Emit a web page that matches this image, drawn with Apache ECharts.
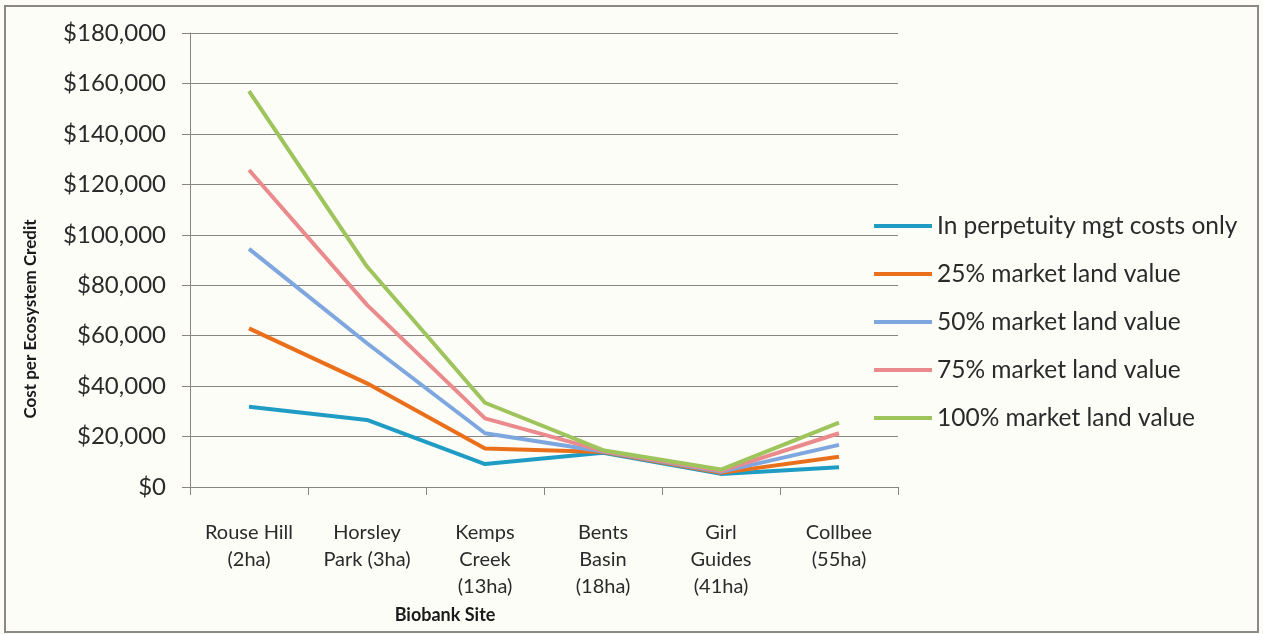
<!DOCTYPE html>
<html>
<head>
<meta charset="utf-8">
<script src="https://cdn.jsdelivr.net/npm/echarts@6/dist/echarts.min.js"></script>
<style>
html,body{margin:0;padding:0;background:#fdfdf8;}
#chart{width:1263px;height:634px;}
</style>
</head>
<body>
<div id="chart"></div>
<script>
const categories = ["Rouse Hill\n(2ha)", "Horsley\nPark (3ha)", "Kemps\nCreek\n(13ha)", "Bents\nBasin\n(18ha)", "Girl\nGuides\n(41ha)", "Collbee\n(55ha)"];
const seriesNames = ["In perpetuity mgt costs only", "25% market land value", "50% market land value", "75% market land value", "100% market land value"];
const mgtOnly   = [31800, 26600, 9100, 13600, 5200, 7800];
const land25    = [62900, 41100, 15300, 13900, 5600, 12000];
const land50    = [94400, 57000, 21300, 14100, 6000, 16700];
const land75    = [125700, 72200, 27200, 14300, 6400, 21300];
const land100   = [157000, 87400, 33400, 14600, 6900, 25500];
const yTicks = { min: 0, max: 180000, interval: 20000 };
const colors = ["#1f9cc4", "#ea6f1b", "#7ea6df", "#ea8a8c", "#9ec45c"];

const allData = [mgtOnly, land25, land50, land75, land100];
const chart = echarts.init(document.getElementById('chart'));
const font = 'Lato, "Open Sans", sans-serif';
chart.setOption({
  backgroundColor: '#fdfdf8',
  animation: false,
  color: colors,
  grid: { left: 190, right: 365, top: 33, bottom: 147 },
  legend: {
    orient: 'vertical',
    left: 869,
    top: 208,
    icon: 'rect',
    itemWidth: 58,
    itemHeight: 4,
    itemGap: 22,
    textStyle: { fontFamily: font, fontSize: 24.5, color: '#2a2a2a', lineHeight: 26 },
    data: seriesNames
  },
  xAxis: {
    type: 'category',
    data: categories,
    boundaryGap: true,
    axisLine: { lineStyle: { color: '#8a8585', width: 1 } },
    axisTick: { show: true, length: 8, lineStyle: { color: '#8a8585' } },
    axisLabel: { fontFamily: font, fontSize: 20, color: '#2a2a2a', margin: 32, lineHeight: 27, interval: 0 }
  },
  yAxis: {
    type: 'value',
    min: yTicks.min, max: yTicks.max, interval: yTicks.interval,
    axisLine: { show: true, lineStyle: { color: '#8a8585', width: 1 } },
    axisTick: { show: true, length: 8, lineStyle: { color: '#8a8585' } },
    splitLine: { lineStyle: { color: '#8a8585', width: 1 } },
    axisLabel: {
      fontFamily: font, fontSize: 24, color: '#2a2a2a', margin: 24,
      formatter: v => '$' + v.toLocaleString('en-US')
    }
  },
  series: seriesNames.map((n, i) => ({
    name: n,
    type: 'line',
    data: allData[i],
    symbol: 'none',
    lineStyle: { width: 4, color: colors[i] },
    itemStyle: { color: colors[i] }
  })),
  graphic: [
    { type: 'rect', shape: { x: 5, y: 6, width: 1253, height: 626 },
      style: { fill: 'none', stroke: '#8c8888', lineWidth: 2 }, silent: true },
    { type: 'text', x: 445, y: 615,
      style: { text: 'Biobank Site', font: 'bold 18px ' + font, fill: '#1a1a1a', textAlign: 'center', textVerticalAlign: 'middle' } },
    { type: 'text', x: 31, y: 319, rotation: Math.PI / 2,
      style: { text: 'Cost per Ecosystem Credit', font: 'bold 17px ' + font, fill: '#1a1a1a', textAlign: 'center', textVerticalAlign: 'middle' } }
  ]
});
</script>
</body>
</html>
